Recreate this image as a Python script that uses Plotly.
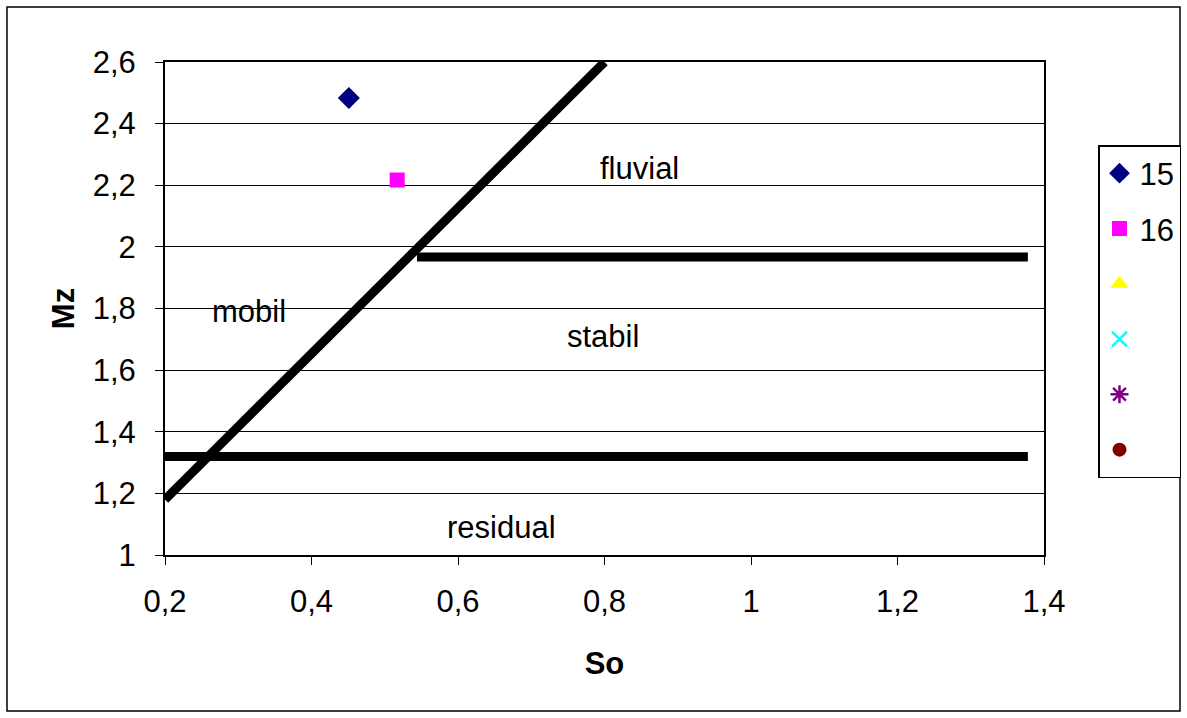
import plotly.graph_objects as go

# ---- data ----
series_names = ["15", "16", " ", "  ", "   ", "    "]
series_x = [[0.451], [0.517], [None], [None], [None], [None]]
series_y = [[2.483], [2.217], [None], [None], [None], [None]]
series_symbols = ["diamond", "square", "triangle-up", "x-thin-open", "asterisk-open", "circle"]
series_colors = ["#000080", "#FF00FF", "#FFFF00", "#00FFFF", "#800080", "#800000"]
series_sizes = [17, 15, 18, 15, 15, 14]

diag_x = [0.2, 0.8]
diag_y = [1.18, 2.6]
low_x = [0.2, 1.378]
low_y = [1.32, 1.32]
up_x = [0.544, 1.378]
up_y = [1.967, 1.967]

labels = ["fluvial", "stabil", "mobil", "residual"]
label_x = [0.848, 0.798, 0.315, 0.66]
label_y = [2.256, 1.71, 1.79, 1.09]

x_ticks = [0.2, 0.4, 0.6, 0.8, 1.0, 1.2, 1.4]
y_ticks = [1.0, 1.2, 1.4, 1.6, 1.8, 2.0, 2.2, 2.4, 2.6]

FONT = "Liberation Sans, Arial, sans-serif"
W, H = 1187, 718
L, T = 165, 62
PW, PH = 879, 493
R = W - L - PW
B = H - T - PH
FS = 31

fig = go.Figure()

for xs, ys in [(diag_x, diag_y), (low_x, low_y), (up_x, up_y)]:
    fig.add_trace(go.Scatter(x=xs, y=ys, mode="lines",
                             line=dict(color="black", width=9),
                             showlegend=False, hoverinfo="skip"))

for i, (n, xs, ys, s, c, sz) in enumerate(zip(series_names, series_x, series_y,
                                              series_symbols, series_colors,
                                              series_sizes)):
    mk = dict(symbol=s, color=c, size=sz)
    if s in ("x-thin-open", "asterisk-open"):
        mk["line"] = dict(color=c, width=2.5)
    fig.add_trace(go.Scatter(x=xs, y=ys, mode="markers", name=n, marker=mk,
                             legendgroup=f"g{i}", showlegend=True))

for t, x, y in zip(labels, label_x, label_y):
    fig.add_annotation(x=x, y=y, xref="x", yref="y", text=t, showarrow=False,
                       font=dict(family=FONT, size=FS, color="black"))

# outer chart border (coordinates in page pixels)
def px_x(p):
    return (p - L) / PW
def px_y(p):
    return (T + PH - p) / PH

fig.add_shape(type="rect", xref="paper", yref="paper",
              x0=px_x(7), x1=px_x(1180), y0=px_y(711), y1=px_y(7),
              line=dict(color="black", width=1.5), layer="below")

fig.update_layout(
    width=W, height=H,
    margin=dict(l=L, r=R, t=T, b=B, autoexpand=False),
    paper_bgcolor="white", plot_bgcolor="white",
    separators=",.",
    font=dict(family=FONT, size=FS, color="black"),
    showlegend=True,
    legend=dict(x=px_x(1098), y=px_y(145), xanchor="left", yanchor="top",
                bordercolor="black", borderwidth=1.5, bgcolor="white",
                font=dict(family=FONT, size=FS, color="black"),
                tracegroupgap=12),
    xaxis=dict(range=[0.2, 1.4], tickvals=x_ticks, showgrid=False,
               showline=True, linecolor="black", linewidth=2, mirror=True,
               ticks="outside", ticklen=8, tickcolor="black", tickwidth=1,
               ticklabelstandoff=10, zeroline=False,
               tickfont=dict(family=FONT, size=FS),
               title=dict(text="<b>So</b>", standoff=34,
                          font=dict(family=FONT, size=FS))),
    yaxis=dict(range=[1.0, 2.6], tickvals=y_ticks, showgrid=True,
               gridcolor="black", gridwidth=1,
               showline=True, linecolor="black", linewidth=2, mirror=True,
               ticks="outside", ticklen=8, tickcolor="black", tickwidth=1,
               ticklabelstandoff=13, zeroline=False,
               tickfont=dict(family=FONT, size=FS),
               title=dict(text="<b>Mz</b>", standoff=9,
                          font=dict(family=FONT, size=FS))),
)

fig.write_html("out.html",
               config={"displayModeBar": False},
               post_script="document.body.style.margin='0px';"
                           "document.body.style.overflow='hidden';")
